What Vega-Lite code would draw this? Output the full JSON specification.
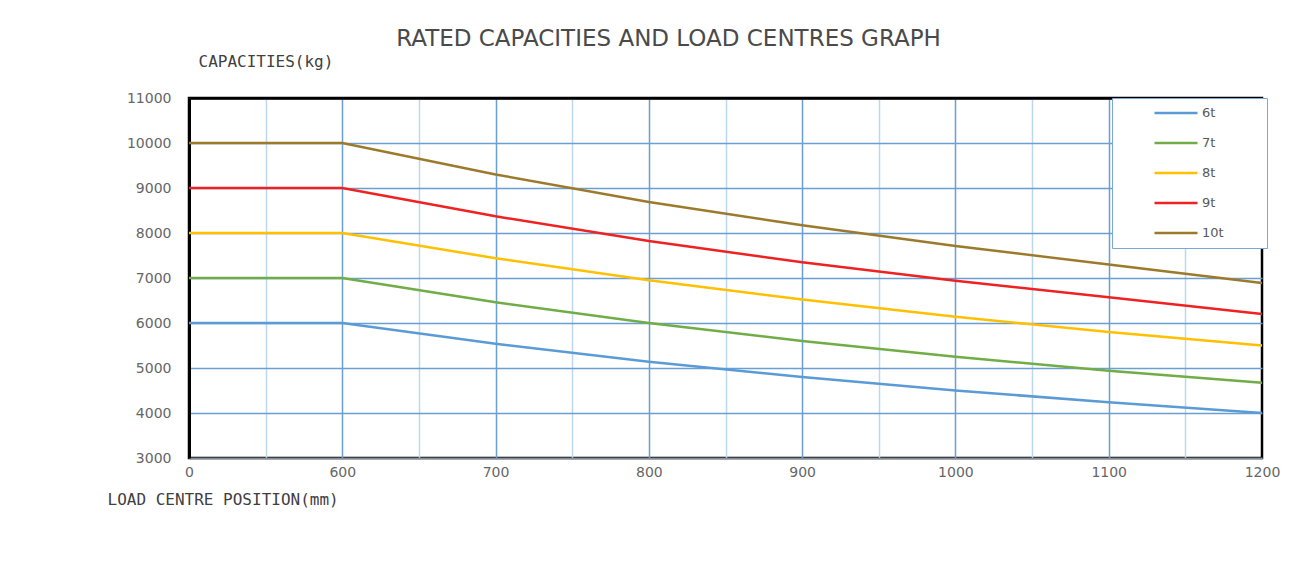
{
  "$schema": "https://vega.github.io/schema/vega-lite/v6.json",
  "autosize": "none",
  "padding": {"left": 189, "top": 98, "right": 49, "bottom": 104},
  "width": 1073,
  "height": 360,
  "background": "white",
  "title": {
    "text": "RATED CAPACITIES AND LOAD CENTRES GRAPH",
    "frame": "group",
    "anchor": "middle",
    "dx": -57,
    "offset": 2,
    "font": "DejaVu Sans",
    "fontSize": 23,
    "fontWeight": "normal",
    "color": "#4a4a4a"
  },
  "config": {
    "view": {"stroke": "black", "strokeWidth": 2.5},
    "axis": {"labelFont": "DejaVu Sans", "labelFontSize": 14, "labelColor": "#666666", "titleFont": "DejaVu Sans Mono", "titleFontSize": 16, "titleFontWeight": "normal", "titleColor": "#404040"}
  },
  "data": {
    "values": [
      {"series": "6t", "mm": 0, "kg": 6000}, {"series": "6t", "mm": 600, "kg": 6000}, {"series": "6t", "mm": 700, "kg": 5540}, {"series": "6t", "mm": 800, "kg": 5140}, {"series": "6t", "mm": 900, "kg": 4800}, {"series": "6t", "mm": 1000, "kg": 4500}, {"series": "6t", "mm": 1100, "kg": 4240}, {"series": "6t", "mm": 1200, "kg": 4000},
      {"series": "7t", "mm": 0, "kg": 7000}, {"series": "7t", "mm": 600, "kg": 7000}, {"series": "7t", "mm": 700, "kg": 6460}, {"series": "7t", "mm": 800, "kg": 6000}, {"series": "7t", "mm": 900, "kg": 5600}, {"series": "7t", "mm": 1000, "kg": 5250}, {"series": "7t", "mm": 1100, "kg": 4940}, {"series": "7t", "mm": 1200, "kg": 4670},
      {"series": "8t", "mm": 0, "kg": 8000}, {"series": "8t", "mm": 600, "kg": 8000}, {"series": "8t", "mm": 700, "kg": 7440}, {"series": "8t", "mm": 800, "kg": 6950}, {"series": "8t", "mm": 900, "kg": 6520}, {"series": "8t", "mm": 1000, "kg": 6140}, {"series": "8t", "mm": 1100, "kg": 5800}, {"series": "8t", "mm": 1200, "kg": 5500},
      {"series": "9t", "mm": 0, "kg": 9000}, {"series": "9t", "mm": 600, "kg": 9000}, {"series": "9t", "mm": 700, "kg": 8370}, {"series": "9t", "mm": 800, "kg": 7820}, {"series": "9t", "mm": 900, "kg": 7350}, {"series": "9t", "mm": 1000, "kg": 6940}, {"series": "9t", "mm": 1100, "kg": 6570}, {"series": "9t", "mm": 1200, "kg": 6200},
      {"series": "10t", "mm": 0, "kg": 10000}, {"series": "10t", "mm": 600, "kg": 10000}, {"series": "10t", "mm": 700, "kg": 9300}, {"series": "10t", "mm": 800, "kg": 8690}, {"series": "10t", "mm": 900, "kg": 8170}, {"series": "10t", "mm": 1000, "kg": 7710}, {"series": "10t", "mm": 1100, "kg": 7300}, {"series": "10t", "mm": 1200, "kg": 6890}
    ]
  },
  "mark": {"type": "line", "strokeWidth": 2.5},
  "encoding": {
    "x": {
      "field": "mm",
      "type": "ordinal",
      "sort": "ascending",
      "scale": {"type": "point", "padding": 0, "domain": [0, 300, 600, 650, 700, 750, 800, 850, 900, 950, 1000, 1050, 1100, 1150, 1200]},
      "axis": {
        "title": "LOAD CENTRE POSITION(mm)",
        "titleAnchor": "start",
        "titleAlign": "left",
        "titleX": -82,
        "titleY": 41,
        "titleBaseline": "middle",
        "labelAngle": 0,
        "labelPadding": 7,
        "ticks": false,
        "labelExpr": "(datum.value == 300 || datum.value % 100 == 50) ? '' : datum.label",
        "domainColor": "#8c8c8c",
        "domainWidth": 1.5,
        "grid": true,
        "gridColor": {"condition": {"test": "datum.value == 300 || datum.value % 100 == 50", "value": "#bdd7ee"}, "value": "#6a9fd4"},
        "gridWidth": {"condition": {"test": "datum.value == 1200", "value": 0}, "value": 1.5}
      }
    },
    "y": {
      "field": "kg",
      "type": "quantitative",
      "scale": {"domain": [3000, 11000], "nice": false, "zero": false},
      "axis": {
        "title": "CAPACITIES(kg)",
        "titleAngle": 0,
        "titleAlign": "left",
        "titleX": 9,
        "titleY": -37,
        "titleBaseline": "middle",
        "values": [3000, 4000, 5000, 6000, 7000, 8000, 9000, 10000, 11000],
        "format": "d",
        "ticks": false,
        "labelPadding": 18,
        "domainColor": "black",
        "domainWidth": 3,
        "grid": true,
        "gridColor": {"condition": {"test": "datum.value == 11000", "value": "black"}, "value": "#6a9fd4"},
        "gridWidth": {"condition": {"test": "datum.value == 11000", "value": 2.5}, "value": 1.5}
      }
    },
    "color": {
      "field": "series",
      "type": "nominal",
      "sort": ["6t", "7t", "8t", "9t", "10t"],
      "scale": {"domain": ["6t", "7t", "8t", "9t", "10t"], "range": ["#5b9bd5", "#70ad47", "#ffc000", "#ee2222", "#9c7a2c"]},
      "legend": {
        "title": null,
        "orient": "none",
        "legendX": 923,
        "legendY": 0,
        "padding": 5,
        "clipHeight": 20,
        "rowPadding": 10,
        "symbolType": "stroke",
        "symbolSize": 1849,
        "symbolStrokeWidth": 2.5,
        "symbolOffset": 36,
        "labelOffset": 3,
        "labelFont": "DejaVu Sans",
        "labelFontSize": 13,
        "labelColor": "#595959",
        "labelExpr": "datum.label + '\u2800\u2800\u2800\u2800'",
        "fillColor": "white",
        "strokeColor": "#7aa7d8"
      }
    }
  }
}
